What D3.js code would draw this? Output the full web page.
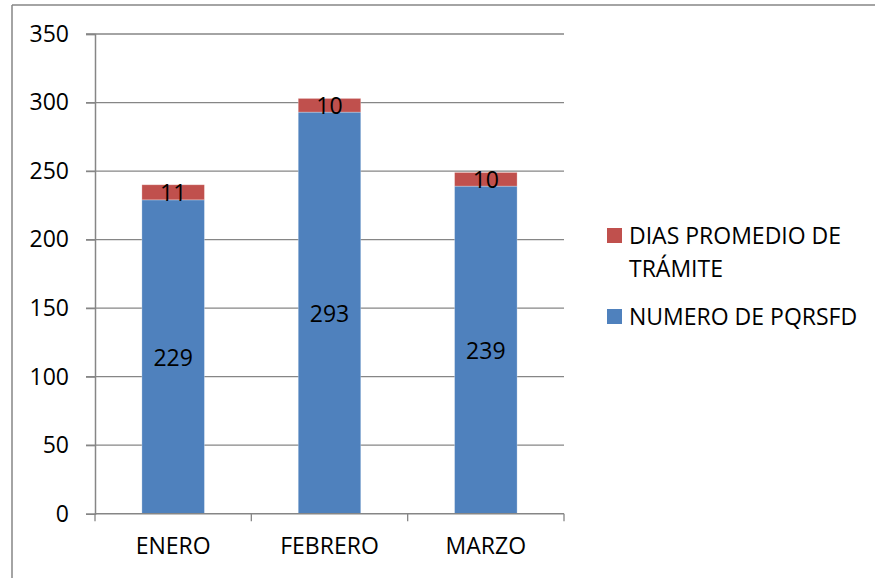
<!DOCTYPE html>
<html>
<head>
<meta charset="utf-8">
<script src="https://cdn.jsdelivr.net/npm/d3@7"></script>
<style>
  html, body { margin: 0; padding: 0; background: #fff; }
  svg { display: block; }
  text { font-family: "Open Sans", "Liberation Sans", sans-serif; fill: #000; }
</style>
</head>
<body>
<svg id="chart" width="875" height="578"></svg>
<script>
const categories = ["ENERO", "FEBRERO", "MARZO"];
const numeroPQRSFD = [229, 293, 239];
const diasPromedio = [11, 10, 10];
const seriesNames = ["NUMERO DE PQRSFD", "DIAS PROMEDIO DE TRÁMITE"];
const seriesColors = ["#4F81BD", "#C0504D"];
const yTicks = [0, 50, 100, 150, 200, 250, 300, 350];

const FS = "23px";
const svg = d3.select("#chart");
const plot = { left: 95, right: 564, top: 34, bottom: 513.7 };

// outer frame (top and left only visible)
svg.append("line").attr("x1", 12).attr("x2", 875).attr("y1", 5).attr("y2", 5)
  .attr("stroke", "#868686").attr("stroke-width", 1.5);
svg.append("line").attr("x1", 12).attr("x2", 12).attr("y1", 5).attr("y2", 578)
  .attr("stroke", "#868686").attr("stroke-width", 1.5);

const x = d3.scaleBand().domain(categories).range([plot.left, plot.right]).padding(0);
const y = d3.scaleLinear().domain([0, 350]).range([plot.bottom, plot.top]);
const barW = x.bandwidth() * 0.4;

// gridlines
svg.append("g").selectAll("line").data(yTicks.filter(d => d > 0)).join("line")
  .attr("x1", plot.left - 9).attr("x2", plot.right)
  .attr("y1", d => y(d)).attr("y2", d => y(d))
  .attr("stroke", "#868686").attr("stroke-width", 1.3);

// y axis
const yAxis = svg.append("g").attr("transform", `translate(${plot.left},0)`)
  .call(d3.axisLeft(y).tickValues(yTicks).tickSize(9).tickPadding(17).tickFormat(d3.format("d")));
yAxis.select(".domain").attr("stroke", "#868686").attr("stroke-width", 1.5);
yAxis.selectAll(".tick line").attr("stroke", "#868686").attr("stroke-width", 1.3);
yAxis.selectAll(".tick text").style("font-size", FS).attr("fill", "#000")
  .style("font-family", "'Open Sans', sans-serif");

// bars
const stacked = categories.map((c, i) => ({
  cat: c,
  segs: [
    { v: numeroPQRSFD[i], y0: 0, y1: numeroPQRSFD[i], color: seriesColors[0] },
    { v: diasPromedio[i], y0: numeroPQRSFD[i], y1: numeroPQRSFD[i] + diasPromedio[i], color: seriesColors[1] }
  ]
}));

const groups = svg.append("g").selectAll("g").data(stacked).join("g");
groups.selectAll("rect").data(d => d.segs.map(s => ({ ...s, cat: d.cat }))).join("rect")
  .attr("x", d => x(d.cat) + x.bandwidth() / 2 - barW / 2)
  .attr("width", barW)
  .attr("y", d => y(d.y1))
  .attr("height", d => y(d.y0) - y(d.y1))
  .attr("fill", d => d.color)
  .attr("stroke", "rgba(255,255,255,0.35)")
  .attr("stroke-width", 0.8);

groups.selectAll("text").data(d => d.segs.map(s => ({ ...s, cat: d.cat }))).join("text")
  .attr("x", d => x(d.cat) + x.bandwidth() / 2)
  .attr("y", d => (y(d.y0) + y(d.y1)) / 2)
  .attr("text-anchor", "middle")
  .attr("dominant-baseline", "central")
  .style("font-size", FS)
  .text(d => d.v);

// x axis
const xAxis = svg.append("g").attr("transform", `translate(0,${plot.bottom})`)
  .call(d3.axisBottom(x).tickSize(0).tickPadding(24));
xAxis.select(".domain").remove();
svg.append("line").attr("x1", plot.left).attr("x2", plot.right)
  .attr("y1", plot.bottom).attr("y2", plot.bottom)
  .attr("stroke", "#868686").attr("stroke-width", 1.5);
const xTickPos = categories.map(c => x(c)).concat([x(categories[categories.length - 1]) + x.bandwidth()]);
svg.append("g").selectAll("line").data(xTickPos).join("line")
  .attr("x1", d => d).attr("x2", d => d)
  .attr("y1", plot.bottom).attr("y2", plot.bottom + 7.5)
  .attr("stroke", "#868686").attr("stroke-width", 1.3);
xAxis.selectAll(".tick text").style("font-size", FS).attr("fill", "#000")
  .attr("dy", "0.71em")
  .style("font-family", "'Open Sans', sans-serif");

// legend
const legend = svg.append("g");
const legItems = [
  { name: ["DIAS PROMEDIO DE", "TRÁMITE"], color: seriesColors[1], y: 244 },
  { name: ["NUMERO DE PQRSFD"], color: seriesColors[0], y: 325 }
];
legItems.forEach(it => {
  legend.append("rect").attr("x", 607).attr("y", it.y - 16).attr("width", 15).attr("height", 15)
    .attr("fill", it.color);
  const t = legend.append("text").attr("x", 629).attr("y", it.y).style("font-size", FS);
  it.name.forEach((ln, i) => {
    t.append("tspan").attr("x", 629).attr("dy", i === 0 ? 0 : 33).text(ln);
  });
});
</script>
</body>
</html>
